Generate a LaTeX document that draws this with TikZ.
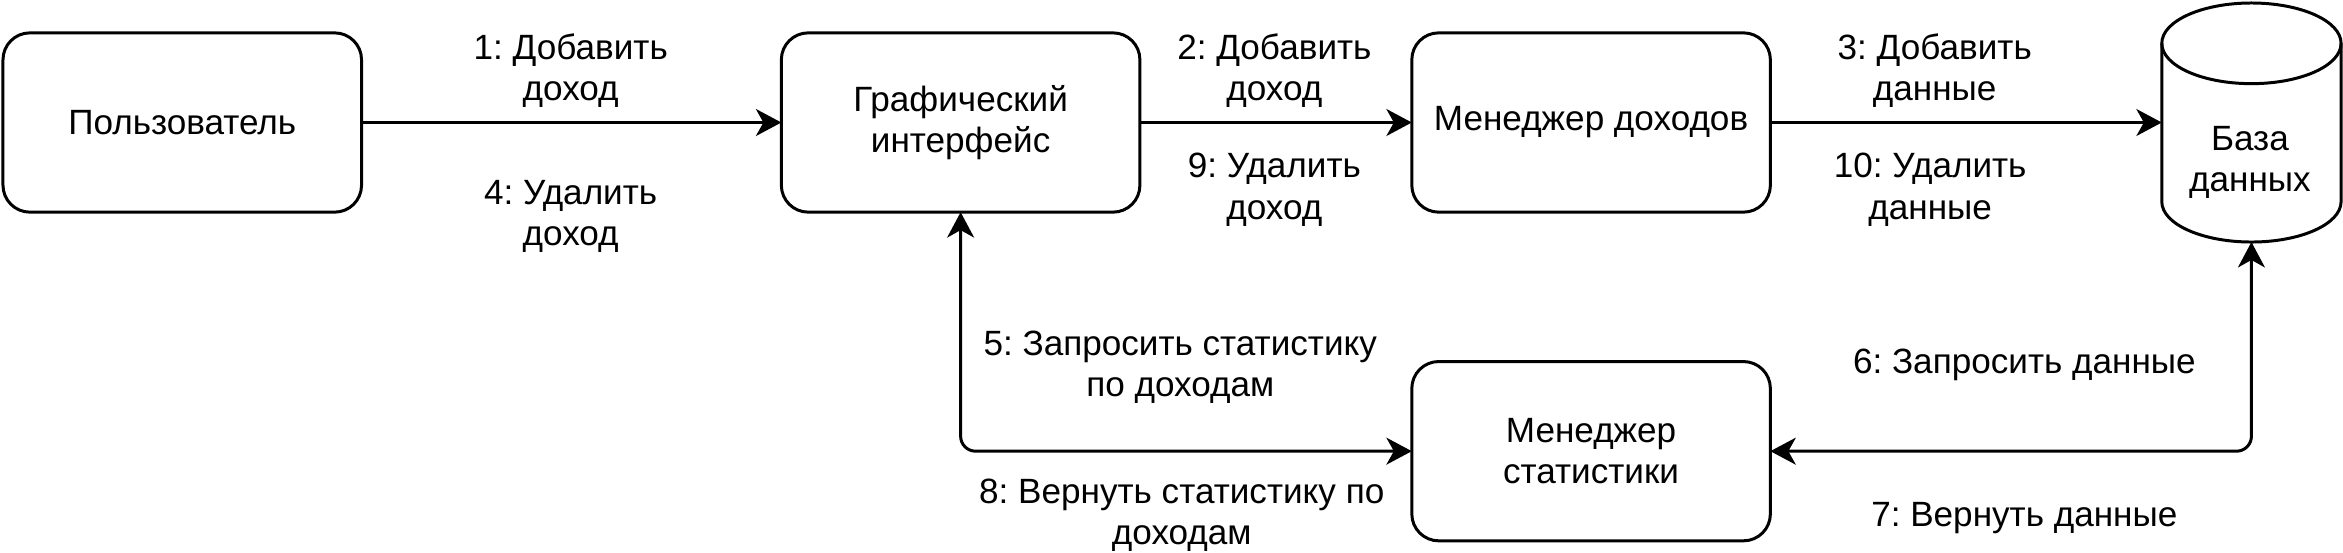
\documentclass[tikz,border=0pt]{standalone}
\usepackage{fontspec}
\setmainfont{Liberation Sans}
\usetikzlibrary{arrows.meta}
\frenchspacing
\begin{document}
\begin{tikzpicture}[x=1pt,y=1pt,
  txt/.style={font=\fontsize{23.5}{27.5}\selectfont},
  box/.style={txt, draw, line width=2pt, rounded corners=18pt, minimum width=240pt,
    minimum height=120pt, inner sep=0pt, outer sep=0pt, align=center},
  lbl/.style={txt, inner sep=0pt, align=center},
  tip/.tip={Stealth[length=17pt,width=18pt,inset=5pt]},
  conn/.style={line width=2pt, -tip},
  bconn/.style={line width=2pt, tip-tip, rounded corners=10pt}]
\useasboundingbox (0,0) rectangle (1568.3,-369.5);

% nodes
\node[box] (user) at (122,-82) {Пользователь};
\node[box] (gui) at (643,-82) {Графический\\интерфейс};
\node[box] (inc) at (1065,-82) {Менеджер доходов};
\node[box] (stat) at (1065,-302) {Менеджер\\статистики};
\node[minimum width=120pt, minimum height=160pt, inner sep=0pt, outer sep=0pt] (db) at (1507,-82) {};

% cylinder shape
\draw[line width=2pt] (1447,-29) arc[start angle=180, end angle=0, x radius=60, y radius=27]
  -- (1567,-135) arc[start angle=0, end angle=-180, x radius=60, y radius=27] -- cycle;
\draw[line width=2pt] (1447,-29) arc[start angle=180, end angle=360, x radius=60, y radius=27];
\node[lbl] (dbl) at (1506,-109) {База\\данных};

% connectors
\draw[conn] (user.east) -- (gui.west);
\draw[conn] (gui.east) -- (inc.west);
\draw[conn] (inc.east) -- (db.west);
\draw[bconn] (gui.south) |- (stat.west);
\draw[bconn] (db.south) |- (stat.east);

% labels
\node[lbl] (l1) at (382,-47) {1: Добавить\\доход};
\node[lbl] (l4) at (382,-145) {4: Удалить\\доход};
\node[lbl] (l2) at (853,-47) {2: Добавить\\доход};
\node[lbl] (l9) at (853,-127) {9: Удалить\\доход};
\node[lbl] (l3) at (1295,-47) {3: Добавить\\данные};
\node[lbl] (l10) at (1292,-127) {10: Удалить\\данные};
\node[lbl] (l5) at (790,-246) {5: Запросить статистику\\по доходам};
\node[lbl] (l8) at (791,-345) {8: Вернуть статистику по\\доходам};
\node[lbl] (l6) at (1355,-244) {6: Запросить данные};
\node[lbl] (l7) at (1355,-347) {7: Вернуть данные};
\end{tikzpicture}
\end{document}
